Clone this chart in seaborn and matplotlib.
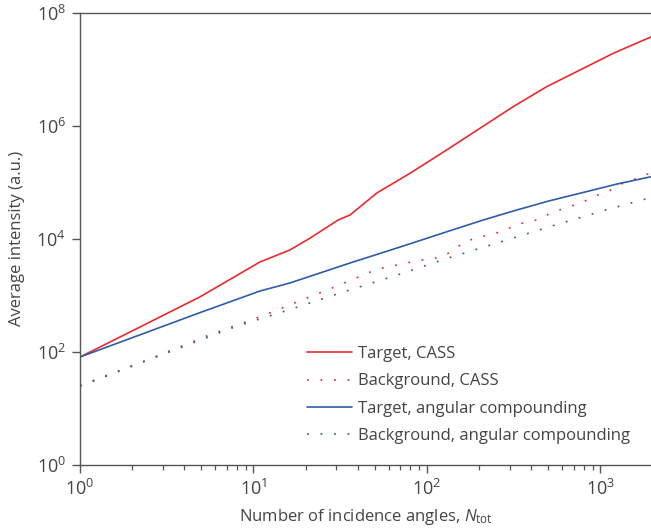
import matplotlib
matplotlib.use('Agg')
import matplotlib.pyplot as plt
import matplotlib.ticker as mticker
import seaborn as sns
import pandas as pd

# 数据：从图中读取（对数坐标）
n_target_cass = [1, 2.2, 4.9, 10.9, 16.2, 21.2, 30.7, 36, 51.5, 80, 136, 202, 314, 490,
                 762, 1185, 1479, 1955]
i_target_cass = [80.5, 270, 929, 3873, 6310, 10233, 21380, 26300, 64570, 144500, 407400,
                 9.0e5, 2.17e6, 4.91e6, 9.68e6, 1.91e7, 2.57e7, 3.72e7]

n_bg_cass = [1, 2.37, 5.61, 11.2, 18.5, 30.7, 51.5, 87.5, 123.6, 169, 236, 278, 324, 444,
             516, 707, 832, 963, 1119, 1295, 1500, 1742, 1955]
i_bg_cass = [25.1, 69.2, 200, 427, 794, 1479, 2884, 4074, 4786, 9120, 12100, 13700, 17700,
             22030, 28500, 39500, 47900, 59400, 69800, 91800, 106400, 130300, 145000]

n_target_ang = [1, 4.9, 10.9, 16.2, 36, 70, 136, 211, 329, 512, 796, 1239, 1955]
i_target_ang = [80.5, 490, 1186, 1644, 3715, 7129, 13870, 21430, 32200, 47100, 65900,
                92500, 125000]

n_bg_ang = [1, 7.82, 16.0, 32.4, 65.5, 130, 264, 532, 1076, 1803, 1955]
i_bg_ang = [24.5, 275, 550, 1122, 2213, 4467, 8710, 16980, 32360, 50120, 54300]

series_names = ['Target, CASS', 'Background, CASS',
                'Target, angular compounding', 'Background, angular compounding']

frames = []
for name, n, v in zip(series_names,
                      [n_target_cass, n_bg_cass, n_target_ang, n_bg_ang],
                      [i_target_cass, i_bg_cass, i_target_ang, i_bg_ang]):
    frames.append(pd.DataFrame({'N': n, 'I': v, 'series': name}))
df = pd.concat(frames, ignore_index=True)

sns.set_style('ticks')
plt.rcParams['font.family'] = ['Open Sans', 'DejaVu Sans']
plt.rcParams['mathtext.fontset'] = 'custom'
plt.rcParams['mathtext.rm'] = 'Open Sans'
plt.rcParams['mathtext.it'] = 'Open Sans:italic'

red = '#ec2a2e'
blue = '#2f5ca8'
palette = {series_names[0]: red, series_names[1]: red,
           series_names[2]: blue, series_names[3]: blue}
dot = (1.1, 7.0)
dashes = {series_names[0]: '', series_names[1]: dot,
          series_names[2]: '', series_names[3]: dot}

fig = plt.figure(figsize=(6.51, 5.31), dpi=100)
ax = fig.add_axes([80 / 651, 1 - 464.7 / 531, 571 / 651, 452 / 531])

sns.lineplot(data=df, x='N', y='I', hue='series', style='series',
             palette=palette, dashes=dashes, hue_order=series_names,
             style_order=series_names, estimator=None, sort=True,
             linewidth=1.2, ax=ax)

ax.set_xscale('log')
ax.set_yscale('log')
ax.set_xlim(1, 1955)
ax.set_ylim(1, 1e8)
ax.set_yticks([1, 1e2, 1e4, 1e6, 1e8])
ax.yaxis.set_minor_locator(mticker.NullLocator())

grey = '#444444'
for s in ['left', 'bottom', 'top']:
    ax.spines[s].set_color('#555555')
    ax.spines[s].set_linewidth(1.0)
ax.spines['right'].set_visible(False)
ax.tick_params(axis='both', which='major', direction='out', length=6,
               width=1.0, color='#555555', labelsize=13, labelcolor=grey, pad=4)
ax.tick_params(axis='x', which='minor', direction='out', length=3.5,
               width=0.9, color='#555555')

ax.set_xlabel(r'Number of incidence angles, $N_{\mathrm{tot}}$', fontsize=12, color=grey, labelpad=6)
ax.set_ylabel('Average intensity (a.u.)', fontsize=12, color=grey, labelpad=8)

leg = ax.legend(loc='lower left', bbox_to_anchor=((307 - 80) / 571, (464.7 - 444) / 452),
                frameon=False, fontsize=12, handlelength=2.7, handletextpad=0.35,
                labelspacing=0.68, borderpad=0, borderaxespad=0)
for t in leg.get_texts():
    t.set_color(grey)

fig.savefig('out.png', dpi=100)
